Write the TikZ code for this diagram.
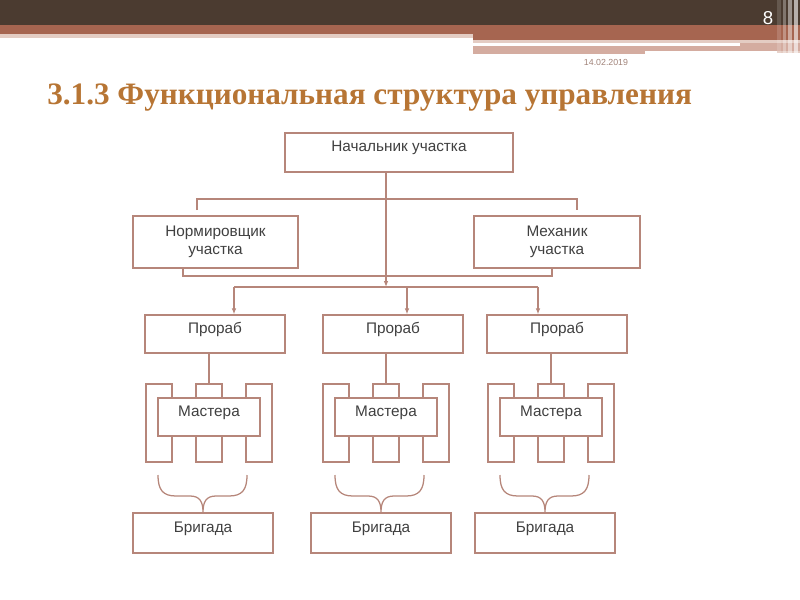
\documentclass[tikz,border=0pt]{standalone}
\usepackage{fontspec}
\setmainfont{Liberation Sans}
\newfontfamily\titlefont{Liberation Serif}
\usetikzlibrary{arrows.meta, positioning, calc}
\definecolor{headdark}{RGB}{75, 59, 48}
\definecolor{headred}{RGB}{166, 101, 80}
\definecolor{headpale}{RGB}{228, 204, 195}
\definecolor{headpink}{RGB}{212, 172, 160}
\definecolor{titlebrown}{RGB}{183, 117, 52}
\definecolor{datecol}{RGB}{160, 130, 120}
\definecolor{linebrown}{RGB}{182, 134, 122}
\definecolor{textgray}{RGB}{64, 64, 64}

\begin{document}
\begin{tikzpicture}[x=0.75pt, y=-0.75pt,
        frame/.style={draw=linebrown, fill=white, line width=0.95pt, inner sep=0pt, font=\fontsize{11.5}{13.5}\selectfont, text=textgray},
        box/.style={frame, text height=8pt, text depth=#1},
        box/.default=9pt,
        tooth/.style={draw=linebrown, fill=white, line width=0.95pt, inner sep=0pt, minimum width=19.5pt, minimum height=58.5pt},
        link/.style={draw=linebrown, line width=0.95pt},
        arr/.style={link, -{Latex[length=4.5pt, width=3.5pt]}}
    ]
        \useasboundingbox (0,0) rectangle (800,600);

        % header bands
        \fill[headdark] (0,0) rectangle (800,25);
        \fill[headred] (0,25) rectangle (800,34);
        \fill[headred] (473,25) rectangle (800,40);
        \fill[headpale] (0,34) rectangle (473,38);
        \fill[headpale] (473,40) rectangle (800,43);
        \fill[headpink] (740,43) rectangle (800,46);
        \fill[headpink] (473,46) rectangle (645,54);
        \fill[headpink] (645,46) rectangle (800,51);
        \fill[headpale] (777,51) rectangle (800,53);
        \fill[white, opacity=0.15] (777,0) rectangle (781,53);
        \fill[white, opacity=0.3] (783,0) rectangle (786,53);
        \fill[white, opacity=0.45] (788,0) rectangle (792,53);
        \fill[white, opacity=0.6] (794,0) rectangle (798,53);

        \node[text=white, font=\fontsize{14}{16}\selectfont] (pagenum) at (768,18) {8};
        \node[text=datecol, font=\fontsize{6.6}{8}\selectfont] (date) at (606,62) {14.02.2019};
        \node[anchor=base west, inner sep=0pt, text=titlebrown, font=\titlefont\bfseries\fontsize{23.4}{27}\selectfont] (title) at (47,104) {3.1.3 Функциональная структура управления};

        % top level
        \node[box=9.8pt, minimum width=171pt, minimum height=29.25pt] (boss) at (399,152.5) {Начальник участка};
        \node[frame, align=center, minimum width=123.75pt, minimum height=39pt] (norm) at (215.5,242) {Нормировщик\\участка};
        \node[frame, align=center, minimum width=124.5pt, minimum height=39pt] (mech) at (557,242) {Механик\\участка};

        \coordinate (barL) at (197,199);
        \coordinate (barR) at (577,199);
        \coordinate (uL) at (183,276);
        \coordinate (uR) at (552,276);
        \coordinate (hub) at (386,287);
        \coordinate (dL) at (234,287);
        \coordinate (dM) at (407,287);
        \coordinate (dR) at (538,287);

        \draw[link] ($(barL)+(0,11)$) -- (barL) -- (barR) -- ($(barR)+(0,11)$);
        \draw[link] (norm.south -| uL) -- (uL) -- (uR) -- (mech.south -| uR);
        \draw[arr] (boss.south -| hub) -- (hub);
        \draw[link] (dL) -- (dR);

        % three sections
        \foreach \g/\mx/\px/\bx in {1/209/215/203, 2/386/393/381, 3/551/557/545} {
            \node[box, minimum width=105pt, minimum height=28.5pt] (pr\g) at (\px,334) {Прораб};
            \node[tooth] (tl\g) at (\mx-50,423) {};
            \node[tooth] (tm\g) at (\mx,423) {};
            \node[tooth] (tr\g) at (\mx+50,423) {};
            \node[box, minimum width=76.5pt, minimum height=28.5pt] (ms\g) at (\mx,417) {Мастера};
            \node[box=8.5pt, minimum width=105pt, minimum height=30pt] (br\g) at (\bx,533) {Бригада};
            \draw[link] (pr\g.south -| tm\g) -- (tm\g.north);
            \draw[link] (\mx-51,475) .. controls (\mx-51,490) and (\mx-46,496) .. (\mx-33,496)
                -- (\bx-13,496) .. controls (\bx-3,496) and (\bx,502) .. (br\g.north)
                .. controls (\bx,502) and (\bx+3,496) .. (\bx+13,496)
                -- (\mx+20,496) .. controls (\mx+33,496) and (\mx+38,490) .. (\mx+38,475);
        }

        \draw[arr] (dL) -- (pr1.north -| dL);
        \draw[arr] (dM) -- (pr2.north -| dM);
        \draw[arr] (dR) -- (pr3.north -| dR);
    \end{tikzpicture}
\end{document}
